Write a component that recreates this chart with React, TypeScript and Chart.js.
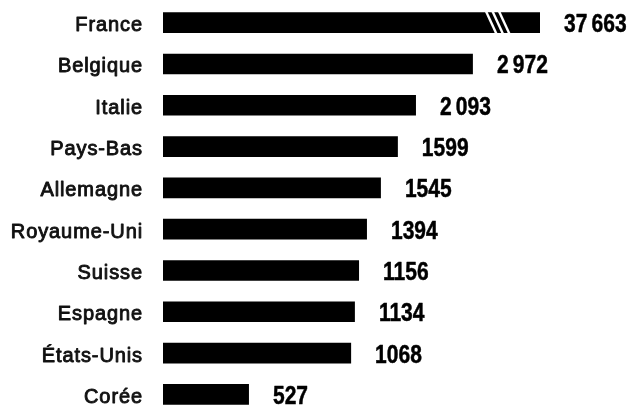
import React, { useEffect, useRef } from "react";
import { Chart, registerables } from "chart.js";

Chart.register(...registerables);

// Categories (top to bottom)
const categories = [
  "France",
  "Belgique",
  "Italie",
  "Pays-Bas",
  "Allemagne",
  "Royaume-Uni",
  "Suisse",
  "Espagne",
  "États-Unis",
  "Corée",
];

// Values printed next to the bars
const values = [37663, 2972, 2093, 1599, 1545, 1394, 1156, 1134, 1068, 527];

// Value labels exactly as printed (inconsistent separators kept)
const valueLabels = [
  "37\u2009663",
  "2\u2009972",
  "2\u2009093",
  "1599",
  "1545",
  "1394",
  "1156",
  "1134",
  "1068",
  "527",
];

// Bar extent, in % of the (truncated) France bar
const barLength = [100, 82.2, 67.1, 62.3, 57.8, 54.1, 52.0, 50.9, 49.9, 22.8];

// Bars drawn with a break mark (truncated)
const brokenBars = ["France"];

const overlayPlugin = {
  id: "overlay",
  afterDatasetsDraw(chart: any) {
    const ctx = chart.ctx as CanvasRenderingContext2D;
    const meta = chart.getDatasetMeta(0);
    ctx.save();
    meta.data.forEach((bar: any, i: number) => {
      const { x, y, base, height } = bar.getProps(["x", "y", "base", "height"], true);

      // break mark
      if (brokenBars.includes(categories[i])) {
        const top = y - height / 2;
        const bot = y + height / 2;
        ctx.strokeStyle = "#ffffff";
        ctx.lineWidth = 2.4;
        [-54, -47.5, -41].forEach((dx) => {
          ctx.beginPath();
          ctx.moveTo(x + dx, top - 1);
          ctx.lineTo(x + dx + 10.5, bot + 1);
          ctx.stroke();
        });
      }

      // category label (regular face, thickened for a medium weight)
      ctx.fillStyle = "#111111";
      ctx.strokeStyle = "#111111";
      ctx.lineWidth = 0.9;
      ctx.lineJoin = "round";
      ctx.font = "20px 'Liberation Sans', Arial, sans-serif";
      (ctx as any).letterSpacing = "0.9px";
      ctx.textAlign = "right";
      ctx.textBaseline = "alphabetic";
      ctx.fillText(categories[i], base - 20, y + 8.5);
      ctx.strokeText(categories[i], base - 20, y + 8.5);

      // value label (condensed bold figures)
      (ctx as any).letterSpacing = "0px";
      ctx.fillStyle = "#000000";
      ctx.strokeStyle = "#000000";
      ctx.lineWidth = 0.5;
      ctx.font = "bold 25px 'Liberation Sans', Arial, sans-serif";
      ctx.textAlign = "left";
      ctx.save();
      ctx.translate(x + 24, y + 9.5);
      ctx.scale(0.84, 1);
      ctx.fillText(valueLabels[i], 0, 0);
      ctx.strokeText(valueLabels[i], 0, 0);
      ctx.restore();
    });
    ctx.restore();
  },
};

export default function App() {
  const canvasRef = useRef<HTMLCanvasElement | null>(null);

  useEffect(() => {
    if (!canvasRef.current) return;
    const chart = new Chart(canvasRef.current, {
      type: "bar",
      data: {
        labels: categories,
        datasets: [
          {
            data: barLength,
            backgroundColor: "#000000",
            borderWidth: 0,
            categoryPercentage: 1,
            barPercentage: 0.5,
          },
        ],
      },
      options: {
        indexAxis: "y",
        animation: false,
        responsive: true,
        maintainAspectRatio: false,
        layout: { padding: { left: 163, right: 90, top: 2, bottom: 1 } },
        plugins: {
          legend: { display: false },
          tooltip: { enabled: false },
        },
        scales: {
          x: { display: false, min: 0, max: 100 },
          y: { display: false },
        },
      },
      plugins: [overlayPlugin],
    });
    return () => chart.destroy();
  }, []);

  return (
    <div
      style={{
        position: "absolute",
        left: 0,
        top: 0,
        width: 630,
        height: 405,
        overflow: "hidden",
        background: "#ffffff",
      }}
    >
      <div style={{ position: "relative", width: 630, height: 416 }}>
        <canvas ref={canvasRef} />
      </div>
    </div>
  );
}
